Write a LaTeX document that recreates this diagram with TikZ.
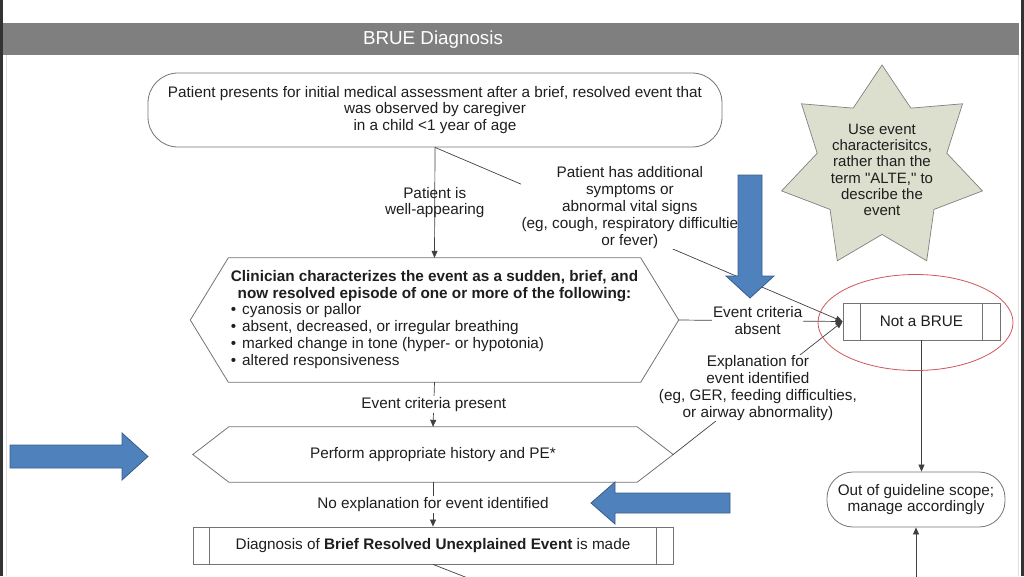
\documentclass[tikz,border=0pt]{standalone}
\usepackage{fontspec}
\setmainfont{Liberation Sans}
\usetikzlibrary{shapes.geometric, arrows.meta, positioning, calc}
\definecolor{headergray}{HTML}{7F7F7F}
\definecolor{slideblue}{HTML}{4F81BD}
\definecolor{slideblueedge}{HTML}{385D8A}
\definecolor{notefill}{HTML}{DCDFCD}
\definecolor{ringred}{HTML}{D0565A}
\definecolor{inktext}{HTML}{1E1E1E}

\begin{document}
\begin{tikzpicture}[x=1pt, y=-1pt,
  every node/.style={font=\fontsize{15.3}{16.8}\selectfont, text=inktext},
  boxline/.style={draw=black!55, line width=0.8pt},
  flowline/.style={draw=black!75, line width=0.7pt},
  arrowline/.style={flowline, -{Triangle[length=7pt,width=6pt]}},
  startbox/.style={boxline, rounded corners=30pt, align=center},
  hexarea/.style={inner sep=0pt, align=center},
  procbox/.style={boxline, inner sep=0pt, align=center},
  boxlabel/.style={fill=white, inner sep=1pt, align=center},
  plainlabel/.style={inner sep=1pt, align=center},
  notestar/.style={star, star points=7, star point ratio=1.55, minimum size=206pt,
    inner sep=0pt, fill=notefill, draw=black!50, line width=0.7pt},
  bluearrow/.style={fill=slideblue, draw=slideblueedge, line width=0.8pt}]

  \useasboundingbox (0,0) rectangle (1024,576);

  % Slide frame and title bar
  \fill[black!80] (0,0) rectangle (2.5,576);
  \fill[black!80] (1021,0) rectangle (1024,576);
  \draw[black!12] (6,54) -- (6,576);
  \draw[black!12] (1018,54) -- (1018,576);
  \fill[headergray] (2.5,23) rectangle (1019,54.5);
  \node[text=white, font=\fontsize{18.8}{21}\selectfont] (title) at (433,39.5) {BRUE Diagnosis};

  % Main flow
  \node[startbox, minimum width=574pt, minimum height=74pt] (present) at (435,110)
    {Patient presents for initial medical assessment after a brief, resolved event that\\
     was observed by caregiver\\in a child <1 year of age};

  \node[hexarea, minimum width=488pt, minimum height=124pt] (chars) at (434.5,320) {%
    \begin{tabular}{@{}l@{}}
      \multicolumn{1}{@{}c@{}}{\bfseries Clinician characterizes the event as a sudden, brief, and}\\
      \multicolumn{1}{@{}c@{}}{\bfseries now resolved episode of one or more of the following:}\\
      \textbullet\hspace{6pt}cyanosis or pallor\\
      \textbullet\hspace{6pt}absent, decreased, or irregular breathing\\
      \textbullet\hspace{6pt}marked change in tone (hyper- or hypotonia)\\
      \textbullet\hspace{6pt}altered responsiveness
    \end{tabular}};
  \draw[boxline] (chars.west) -- ([xshift=38pt]chars.north west) -- ([xshift=-38pt]chars.north east)
    -- (chars.east) -- ([xshift=-38pt]chars.south east) -- ([xshift=38pt]chars.south west) -- cycle;

  \node[hexarea, minimum width=480pt, minimum height=55pt] (hist) at (433,454.5)
    {Perform appropriate history and PE*};
  \draw[boxline] (hist.west) -- ([xshift=36pt]hist.north west) -- ([xshift=-36pt]hist.north east)
    -- (hist.east) -- ([xshift=-36pt]hist.south east) -- ([xshift=36pt]hist.south west) -- cycle;

  \node[procbox, minimum width=480pt, minimum height=37pt] (brue) at (433,545.5)
    {Diagnosis of \textbf{Brief Resolved Unexplained Event} is made};

  % Side branch
  \node[procbox, minimum width=157pt, minimum height=37pt] (nobrue) at (921.5,321.5) {Not a BRUE};
  \node[startbox, rounded corners=26pt, minimum width=178pt, minimum height=55pt] (oos) at (916,499.5)
    {Out of guideline scope;\\manage accordingly};

  \foreach \b/\d in {brue/17pt, nobrue/18pt} {
    \draw[boxline] ([xshift=\d]\b.north west) -- ([xshift=\d]\b.south west);
    \draw[boxline] ([xshift=-\d]\b.north east) -- ([xshift=-\d]\b.south east);
  }

  % Note star
  \node[notestar] (note) at (882,168) {};
  \node[align=center, font=\fontsize{15}{16.2}\selectfont] (notetext) at ([yshift=-2pt]note.center)
    {Use event\\characterisitcs,\\rather than the\\term \textquotedbl ALTE,\textquotedbl\ to\\describe the\\event};

  % Connectors
  \draw[arrowline] (present.south) -- node[midway, plainlabel] {Patient is\\well-appearing} (chars.north);
  \draw[arrowline] (present.south) -- node[pos=0.478, yshift=23pt, boxlabel]
    {Patient has additional\\symptoms or\\abnormal vital signs\\(eg, cough, respiratory difficultie\\or fever)} (nobrue.west);
  \draw[arrowline] (chars.east) -- node[midway, xshift=-3pt, boxlabel] {Event criteria\\absent} (nobrue.west);
  \draw[arrowline] (hist.east) -- node[midway, boxlabel]
    {Explanation for\\event identified\\(eg, GER, feeding difficulties,\\or airway abnormality)} (nobrue.west);
  \draw[arrowline] (chars.south) -- node[midway, boxlabel] {Event criteria present} (hist.north);
  \draw[arrowline] (hist.south) -- node[midway, boxlabel] {No explanation for event identified} (brue.north);
  \draw[arrowline] (nobrue.south) -- (nobrue.south |- oos.north);
  \coordinate (offpage) at (916,590);
  \draw[arrowline] (offpage) -- (oos.south);
  \coordinate (nextstep) at (478,582);
  \draw[flowline] (brue.south) -- (nextstep);

  % Highlight ring
  \draw[ringred, line width=0.8pt] (915.5,322.5) ellipse [x radius=97.5, y radius=48];

  % Blue pointer arrows
  \draw[bluearrow] (738,175) -- (762,175) -- (762,276) -- (774,276) -- (750,298)
    -- (726,276) -- (738,276) -- cycle;
  \draw[bluearrow] (10,445) -- (122,445) -- (122,433) -- (148,456.5) -- (122,480)
    -- (122,468) -- (10,468) -- cycle;
  \draw[bluearrow] (730,493) -- (615,493) -- (615,482) -- (591,503) -- (615,524)
    -- (615,513) -- (730,513) -- cycle;

\end{tikzpicture}
\end{document}
